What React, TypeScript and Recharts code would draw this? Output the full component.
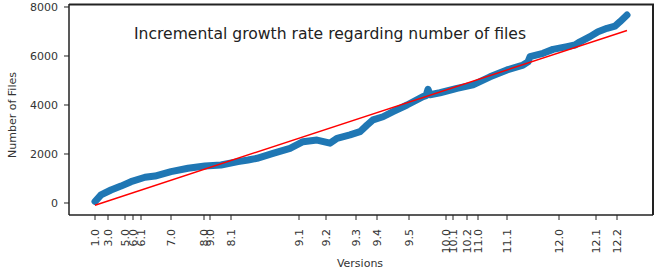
import React from "react";
import { ComposedChart, Line, XAxis, YAxis } from "recharts";

// x = build order (0 = first build), y = number of files
const buildIndex = [
  0, 6, 16, 26, 36, 50, 60, 76, 93, 110, 126, 143, 153, 162, 178, 195, 208, 222, 235, 242, 255, 265, 272, 278,
  288, 298, 305, 312, 328, 331, 333, 335, 345, 362, 378, 395, 412, 428, 433, 435, 448, 458, 472, 480, 485, 495,
  503, 512, 520, 525, 532
];
const fileCount = [
  60, 330, 530, 690, 870, 1050, 1100, 1280, 1420, 1510, 1550, 1690, 1755, 1824, 2028, 2233, 2500, 2570, 2440, 2640,
  2780, 2910, 3180, 3390, 3520, 3730, 3865, 4000, 4340, 4380, 4640, 4420, 4500, 4680, 4820, 5150, 5430, 5630, 5760,
  5970, 6110, 6270, 6380, 6450, 6580, 6790, 6990, 7130, 7220, 7400, 7670
];

// linear fit end points
const fitIndex = [0, 532];
const fitCount = [-90, 7040];

const versionPositions = [0, 13, 30, 38, 46, 76, 109, 115, 136, 204, 231, 261, 282, 314, 351, 358, 372, 383, 412, 464, 501, 522];
const versionLabels = [
  "1.0", "3.0", "5.0", "6.0", "6.1", "7.0", "8.0", "9.0", "8.1", "9.1", "9.2", "9.3", "9.4", "9.5",
  "10.0", "10.1", "10.2", "11.0", "11.1", "12.0", "12.1", "12.2"
];
const countTicks = [0, 2000, 4000, 6000, 8000];

const xDomain: [number, number] = [-26, 558];
const yDomain: [number, number] = [-490, 8122];

const rows = buildIndex.map((x, i) => ({ x, files: fileCount[i] }));
const fitRows = fitIndex.map((x, i) => ({ x, fit: fitCount[i] }));

const FONT = "DejaVu Sans";

function VersionTick(props: any) {
  const { x, y, payload } = props;
  const i = versionPositions.indexOf(payload.value);
  return (
    <g transform={`translate(${x},${y}) rotate(-90)`}>
      <text x={-7} y={0} dy="0.35em" textAnchor="end" fontSize={11} fontFamily={FONT} fill="#333">
        {versionLabels[i]}
      </text>
    </g>
  );
}

export default function App() {
  return (
    <div style={{ position: "absolute", left: 0, top: 0, width: 662, height: 277, background: "#fff" }}>
      <ComposedChart width={662} height={277} margin={{ top: 4, right: 9, bottom: 0, left: 0 }}>
        <XAxis
          dataKey="x"
          type="number"
          domain={xDomain}
          ticks={versionPositions}
          interval={0}
          height={62}
          tickSize={5}
          tick={<VersionTick />}
          axisLine={{ stroke: "#222", strokeWidth: 1.5 }}
          tickLine={{ stroke: "#222" }}
          allowDataOverflow
        />
        <YAxis
          type="number"
          domain={yDomain}
          ticks={countTicks}
          width={69}
          tickSize={5}
          tickMargin={6}
          axisLine={{ stroke: "#222", strokeWidth: 1.5 }}
          tickLine={{ stroke: "#222" }}
          allowDataOverflow
          tick={{ fontSize: 11, fontFamily: FONT, fill: "#333" }}
        />
        <Line
          data={rows}
          dataKey="files"
          type="linear"
          stroke="#1f77b4"
          strokeWidth={7}
          strokeLinecap="round"
          strokeLinejoin="round"
          dot={false}
          isAnimationActive={false}
        />
        <Line data={fitRows} dataKey="fit" type="linear" stroke="#ff0000" strokeWidth={1.5} dot={false} isAnimationActive={false} />
      </ComposedChart>
      <svg width={662} height={277} style={{ position: "absolute", left: 0, top: 0, pointerEvents: "none" }}>
        {/* top and right spines of the axes frame */}
        <path d="M69 4.5 H653 V215" fill="none" stroke="#222" strokeWidth={2} />
        <text x={330} y={39} textAnchor="middle" fontSize={15.6} fontFamily={FONT} fill="#222">
          Incremental growth rate regarding number of files
        </text>
        <text x={360} y={267} textAnchor="middle" fontSize={11} fontFamily={FONT} fill="#333">
          Versions
        </text>
        <text
          x={12}
          y={115}
          transform="rotate(-90 12 115)"
          textAnchor="middle"
          dominantBaseline="central"
          fontSize={11}
          fontFamily={FONT}
          fill="#333"
        >
          Number of Files
        </text>
      </svg>
    </div>
  );
}
